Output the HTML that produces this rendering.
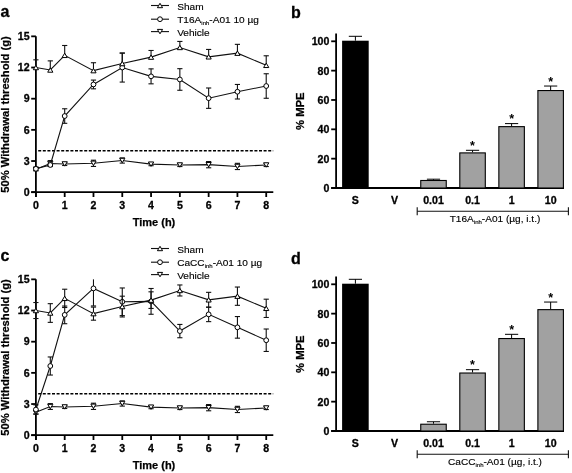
<!DOCTYPE html>
<html><head><meta charset="utf-8"><style>
html,body{margin:0;padding:0;background:#fff;}
svg{display:block;will-change:transform;}
text{font-family:"Liberation Sans", sans-serif;fill:#000;}
.pl{font-size:16px;font-weight:bold;stroke:#000;stroke-width:0.3px;}
.tk{font-size:10.6px;font-weight:bold;stroke:#000;stroke-width:0.3px;}
.tt{font-size:11px;font-weight:bold;stroke:#000;stroke-width:0.25px;}
.lg{font-size:10.1px;fill:#000;stroke:#000;stroke-width:0.15px;}
.sub{font-size:10.1px;fill:#000;stroke:#000;stroke-width:0.15px;}
.ast{font-size:12.5px;font-weight:bold;}
.ax{stroke:#000;stroke-width:1.8;}
.sl{stroke:#111;stroke-width:1.1;}
.eb{stroke:#111;stroke-width:1.1;}
.eb2{stroke:#000;stroke-width:1;}
.mk{fill:#fff;stroke:#000;stroke-width:1;}
.dash{stroke:#000;stroke-width:1.5;stroke-dasharray:3 1.6;}
.gb{fill:#a1a1a1;stroke:#000;stroke-width:1.1;}
.br{stroke:#111;stroke-width:1.1;}
</style></head><body>
<svg width="572" height="473" viewBox="0 0 572 473">
<text x="0.5" y="17" class="pl">a</text>
<line x1="151" y1="5.5" x2="169" y2="5.5" class="sl"/>
<polygon points="160,3.3 162.6,7.7 157.4,7.7" class="mk"/>
<text transform="translate(177.2,9.5) scale(1,0.92)" class="lg">Sham</text>
<line x1="151" y1="19.2" x2="169" y2="19.2" class="sl"/>
<circle cx="160" cy="19.2" r="2.4" class="mk"/>
<text transform="translate(177.2,23.2) scale(1,0.92)" class="lg">T16A<tspan font-size="6" dy="1.8">inh</tspan><tspan dy="-1.8">-A01 10 µg</tspan></text>
<line x1="151" y1="31.6" x2="169" y2="31.6" class="sl"/>
<polygon points="160,33.8 162.6,29.4 157.4,29.4" class="mk"/>
<text transform="translate(177.2,35.6) scale(1,0.92)" class="lg">Vehicle</text>
<line x1="35.9" y1="36.35" x2="35.9" y2="197" class="ax"/>
<line x1="31.2" y1="192.2" x2="273.3" y2="192.2" class="ax"/>
<line x1="31.2" y1="192.2" x2="35.9" y2="192.2" class="ax"/>
<text x="29.6" y="196" class="tk" text-anchor="end">0</text>
<line x1="31.2" y1="161.03" x2="35.9" y2="161.03" class="ax"/>
<text x="29.6" y="164.83" class="tk" text-anchor="end">3</text>
<line x1="31.2" y1="129.86" x2="35.9" y2="129.86" class="ax"/>
<text x="29.6" y="133.66" class="tk" text-anchor="end">6</text>
<line x1="31.2" y1="98.69" x2="35.9" y2="98.69" class="ax"/>
<text x="29.6" y="102.49" class="tk" text-anchor="end">9</text>
<line x1="31.2" y1="67.52" x2="35.9" y2="67.52" class="ax"/>
<text x="29.6" y="71.32" class="tk" text-anchor="end">12</text>
<line x1="31.2" y1="36.35" x2="35.9" y2="36.35" class="ax"/>
<text x="29.6" y="40.15" class="tk" text-anchor="end">15</text>
<line x1="35.9" y1="192.2" x2="35.9" y2="197" class="ax"/>
<text x="35.9" y="209" class="tk" text-anchor="middle">0</text>
<line x1="64.69" y1="192.2" x2="64.69" y2="197" class="ax"/>
<text x="64.69" y="209" class="tk" text-anchor="middle">1</text>
<line x1="93.48" y1="192.2" x2="93.48" y2="197" class="ax"/>
<text x="93.48" y="209" class="tk" text-anchor="middle">2</text>
<line x1="122.27" y1="192.2" x2="122.27" y2="197" class="ax"/>
<text x="122.27" y="209" class="tk" text-anchor="middle">3</text>
<line x1="151.06" y1="192.2" x2="151.06" y2="197" class="ax"/>
<text x="151.06" y="209" class="tk" text-anchor="middle">4</text>
<line x1="179.85" y1="192.2" x2="179.85" y2="197" class="ax"/>
<text x="179.85" y="209" class="tk" text-anchor="middle">5</text>
<line x1="208.64" y1="192.2" x2="208.64" y2="197" class="ax"/>
<text x="208.64" y="209" class="tk" text-anchor="middle">6</text>
<line x1="237.43" y1="192.2" x2="237.43" y2="197" class="ax"/>
<text x="237.43" y="209" class="tk" text-anchor="middle">7</text>
<line x1="266.22" y1="192.2" x2="266.22" y2="197" class="ax"/>
<text x="266.22" y="209" class="tk" text-anchor="middle">8</text>
<text x="154" y="225.6" class="tt" text-anchor="middle">Time (h)</text>
<text transform="translate(9.1,114.45) rotate(-90)" x="0" y="0" class="tt" style="font-size:11.2px" text-anchor="middle">50% Withdrawal threshold (g)</text>
<line x1="38.2" y1="150.64" x2="273.2" y2="150.64" class="dash"/>
<polyline points="35.9,169.34 50.3,163.52 64.69,163.94 93.48,163.32 122.27,160.51 151.06,164.15 179.85,164.98 208.64,164.67 237.43,166.43 266.22,164.98" class="sl" fill="none"/>
<line x1="35.9" y1="167.78" x2="35.9" y2="170.9" class="eb"/>
<line x1="33.3" y1="167.78" x2="38.5" y2="167.78" class="eb"/>
<line x1="33.3" y1="170.9" x2="38.5" y2="170.9" class="eb"/>
<line x1="50.3" y1="160.61" x2="50.3" y2="166.43" class="eb"/>
<line x1="47.7" y1="160.61" x2="52.9" y2="160.61" class="eb"/>
<line x1="47.7" y1="166.43" x2="52.9" y2="166.43" class="eb"/>
<line x1="64.69" y1="162.38" x2="64.69" y2="165.5" class="eb"/>
<line x1="62.09" y1="162.38" x2="67.29" y2="162.38" class="eb"/>
<line x1="62.09" y1="165.5" x2="67.29" y2="165.5" class="eb"/>
<line x1="93.48" y1="160.2" x2="93.48" y2="166.43" class="eb"/>
<line x1="90.88" y1="160.2" x2="96.08" y2="160.2" class="eb"/>
<line x1="90.88" y1="166.43" x2="96.08" y2="166.43" class="eb"/>
<line x1="122.27" y1="157.91" x2="122.27" y2="163.11" class="eb"/>
<line x1="119.67" y1="157.91" x2="124.87" y2="157.91" class="eb"/>
<line x1="119.67" y1="163.11" x2="124.87" y2="163.11" class="eb"/>
<line x1="151.06" y1="162.59" x2="151.06" y2="165.71" class="eb"/>
<line x1="148.46" y1="162.59" x2="153.66" y2="162.59" class="eb"/>
<line x1="148.46" y1="165.71" x2="153.66" y2="165.71" class="eb"/>
<line x1="179.85" y1="163.42" x2="179.85" y2="166.54" class="eb"/>
<line x1="177.25" y1="163.42" x2="182.45" y2="163.42" class="eb"/>
<line x1="177.25" y1="166.54" x2="182.45" y2="166.54" class="eb"/>
<line x1="208.64" y1="161.55" x2="208.64" y2="167.78" class="eb"/>
<line x1="206.04" y1="161.55" x2="211.24" y2="161.55" class="eb"/>
<line x1="206.04" y1="167.78" x2="211.24" y2="167.78" class="eb"/>
<line x1="237.43" y1="163.32" x2="237.43" y2="169.55" class="eb"/>
<line x1="234.83" y1="163.32" x2="240.03" y2="163.32" class="eb"/>
<line x1="234.83" y1="169.55" x2="240.03" y2="169.55" class="eb"/>
<line x1="266.22" y1="163.42" x2="266.22" y2="166.54" class="eb"/>
<line x1="263.62" y1="163.42" x2="268.82" y2="163.42" class="eb"/>
<line x1="263.62" y1="166.54" x2="268.82" y2="166.54" class="eb"/>
<polygon points="35.9,171.54 38.5,167.14 33.3,167.14" class="mk"/>
<polygon points="50.3,165.72 52.9,161.32 47.7,161.32" class="mk"/>
<polygon points="64.69,166.14 67.29,161.74 62.09,161.74" class="mk"/>
<polygon points="93.48,165.52 96.08,161.12 90.88,161.12" class="mk"/>
<polygon points="122.27,162.71 124.87,158.31 119.67,158.31" class="mk"/>
<polygon points="151.06,166.35 153.66,161.95 148.46,161.95" class="mk"/>
<polygon points="179.85,167.18 182.45,162.78 177.25,162.78" class="mk"/>
<polygon points="208.64,166.87 211.24,162.47 206.04,162.47" class="mk"/>
<polygon points="237.43,168.63 240.03,164.23 234.83,164.23" class="mk"/>
<polygon points="266.22,167.18 268.82,162.78 263.62,162.78" class="mk"/>
<polyline points="35.9,168.82 50.3,164.98 64.69,116.04 93.48,84.46 122.27,67.52 151.06,76.35 179.85,79.47 208.64,98.17 237.43,91.73 266.22,86.01" class="sl" fill="none"/>
<line x1="35.9" y1="167.26" x2="35.9" y2="170.38" class="eb"/>
<line x1="33.3" y1="167.26" x2="38.5" y2="167.26" class="eb"/>
<line x1="33.3" y1="170.38" x2="38.5" y2="170.38" class="eb"/>
<line x1="50.3" y1="163.42" x2="50.3" y2="166.54" class="eb"/>
<line x1="47.7" y1="163.42" x2="52.9" y2="163.42" class="eb"/>
<line x1="47.7" y1="166.54" x2="52.9" y2="166.54" class="eb"/>
<line x1="64.69" y1="108.77" x2="64.69" y2="123.31" class="eb"/>
<line x1="62.09" y1="108.77" x2="67.29" y2="108.77" class="eb"/>
<line x1="62.09" y1="123.31" x2="67.29" y2="123.31" class="eb"/>
<line x1="93.48" y1="80.09" x2="93.48" y2="88.82" class="eb"/>
<line x1="90.88" y1="80.09" x2="96.08" y2="80.09" class="eb"/>
<line x1="90.88" y1="88.82" x2="96.08" y2="88.82" class="eb"/>
<line x1="122.27" y1="52.97" x2="122.27" y2="82.07" class="eb"/>
<line x1="119.67" y1="52.97" x2="124.87" y2="52.97" class="eb"/>
<line x1="119.67" y1="82.07" x2="124.87" y2="82.07" class="eb"/>
<line x1="151.06" y1="68.87" x2="151.06" y2="83.83" class="eb"/>
<line x1="148.46" y1="68.87" x2="153.66" y2="68.87" class="eb"/>
<line x1="148.46" y1="83.83" x2="153.66" y2="83.83" class="eb"/>
<line x1="179.85" y1="68.66" x2="179.85" y2="90.27" class="eb"/>
<line x1="177.25" y1="68.66" x2="182.45" y2="68.66" class="eb"/>
<line x1="177.25" y1="90.27" x2="182.45" y2="90.27" class="eb"/>
<line x1="208.64" y1="87.99" x2="208.64" y2="108.35" class="eb"/>
<line x1="206.04" y1="87.99" x2="211.24" y2="87.99" class="eb"/>
<line x1="206.04" y1="108.35" x2="211.24" y2="108.35" class="eb"/>
<line x1="237.43" y1="84.46" x2="237.43" y2="99" class="eb"/>
<line x1="234.83" y1="84.46" x2="240.03" y2="84.46" class="eb"/>
<line x1="234.83" y1="99" x2="240.03" y2="99" class="eb"/>
<line x1="266.22" y1="73.75" x2="266.22" y2="98.27" class="eb"/>
<line x1="263.62" y1="73.75" x2="268.82" y2="73.75" class="eb"/>
<line x1="263.62" y1="98.27" x2="268.82" y2="98.27" class="eb"/>
<circle cx="35.9" cy="168.82" r="2.4" class="mk"/>
<circle cx="50.3" cy="164.98" r="2.4" class="mk"/>
<circle cx="64.69" cy="116.04" r="2.4" class="mk"/>
<circle cx="93.48" cy="84.46" r="2.4" class="mk"/>
<circle cx="122.27" cy="67.52" r="2.4" class="mk"/>
<circle cx="151.06" cy="76.35" r="2.4" class="mk"/>
<circle cx="179.85" cy="79.47" r="2.4" class="mk"/>
<circle cx="208.64" cy="98.17" r="2.4" class="mk"/>
<circle cx="237.43" cy="91.73" r="2.4" class="mk"/>
<circle cx="266.22" cy="86.01" r="2.4" class="mk"/>
<polyline points="35.9,67.52 50.3,70.01 64.69,55.36 93.48,70.64 122.27,63.57 151.06,57.13 179.85,47.47 208.64,56.82 237.43,53.18 266.22,65.34" class="sl" fill="none"/>
<line x1="35.9" y1="59.83" x2="35.9" y2="67.52" class="eb"/>
<line x1="33.3" y1="59.83" x2="38.5" y2="59.83" class="eb"/>
<line x1="50.3" y1="60.87" x2="50.3" y2="70.01" class="eb"/>
<line x1="47.7" y1="60.87" x2="52.9" y2="60.87" class="eb"/>
<line x1="64.69" y1="45.49" x2="64.69" y2="55.36" class="eb"/>
<line x1="62.09" y1="45.49" x2="67.29" y2="45.49" class="eb"/>
<line x1="93.48" y1="62.74" x2="93.48" y2="70.64" class="eb"/>
<line x1="90.88" y1="62.74" x2="96.08" y2="62.74" class="eb"/>
<line x1="122.27" y1="53.18" x2="122.27" y2="63.57" class="eb"/>
<line x1="119.67" y1="53.18" x2="124.87" y2="53.18" class="eb"/>
<line x1="151.06" y1="50.48" x2="151.06" y2="57.13" class="eb"/>
<line x1="148.46" y1="50.48" x2="153.66" y2="50.48" class="eb"/>
<line x1="179.85" y1="41.44" x2="179.85" y2="47.47" class="eb"/>
<line x1="177.25" y1="41.44" x2="182.45" y2="41.44" class="eb"/>
<line x1="208.64" y1="49.44" x2="208.64" y2="56.82" class="eb"/>
<line x1="206.04" y1="49.44" x2="211.24" y2="49.44" class="eb"/>
<line x1="237.43" y1="44.35" x2="237.43" y2="53.18" class="eb"/>
<line x1="234.83" y1="44.35" x2="240.03" y2="44.35" class="eb"/>
<line x1="266.22" y1="55.78" x2="266.22" y2="65.34" class="eb"/>
<line x1="263.62" y1="55.78" x2="268.82" y2="55.78" class="eb"/>
<polygon points="35.9,65.32 38.5,69.72 33.3,69.72" class="mk"/>
<polygon points="50.3,67.81 52.9,72.21 47.7,72.21" class="mk"/>
<polygon points="64.69,53.16 67.29,57.56 62.09,57.56" class="mk"/>
<polygon points="93.48,68.44 96.08,72.84 90.88,72.84" class="mk"/>
<polygon points="122.27,61.37 124.87,65.77 119.67,65.77" class="mk"/>
<polygon points="151.06,54.93 153.66,59.33 148.46,59.33" class="mk"/>
<polygon points="179.85,45.27 182.45,49.67 177.25,49.67" class="mk"/>
<polygon points="208.64,54.62 211.24,59.02 206.04,59.02" class="mk"/>
<polygon points="237.43,50.98 240.03,55.38 234.83,55.38" class="mk"/>
<polygon points="266.22,63.14 268.82,67.54 263.62,67.54" class="mk"/>
<text x="0.5" y="261.2" class="pl">c</text>
<line x1="151" y1="248.5" x2="169" y2="248.5" class="sl"/>
<polygon points="160,246.3 162.6,250.7 157.4,250.7" class="mk"/>
<text transform="translate(177.2,252.5) scale(1,0.92)" class="lg">Sham</text>
<line x1="151" y1="262.2" x2="169" y2="262.2" class="sl"/>
<circle cx="160" cy="262.2" r="2.4" class="mk"/>
<text transform="translate(177.2,266.2) scale(1,0.92)" class="lg">CaCC<tspan font-size="6" dy="1.8">inh</tspan><tspan dy="-1.8">-A01 10 µg</tspan></text>
<line x1="151" y1="274.6" x2="169" y2="274.6" class="sl"/>
<polygon points="160,276.8 162.6,272.4 157.4,272.4" class="mk"/>
<text transform="translate(177.2,278.6) scale(1,0.92)" class="lg">Vehicle</text>
<line x1="35.9" y1="279.35" x2="35.9" y2="440" class="ax"/>
<line x1="31.2" y1="435.2" x2="273.3" y2="435.2" class="ax"/>
<line x1="31.2" y1="435.2" x2="35.9" y2="435.2" class="ax"/>
<text x="29.6" y="439" class="tk" text-anchor="end">0</text>
<line x1="31.2" y1="404.03" x2="35.9" y2="404.03" class="ax"/>
<text x="29.6" y="407.83" class="tk" text-anchor="end">3</text>
<line x1="31.2" y1="372.86" x2="35.9" y2="372.86" class="ax"/>
<text x="29.6" y="376.66" class="tk" text-anchor="end">6</text>
<line x1="31.2" y1="341.69" x2="35.9" y2="341.69" class="ax"/>
<text x="29.6" y="345.49" class="tk" text-anchor="end">9</text>
<line x1="31.2" y1="310.52" x2="35.9" y2="310.52" class="ax"/>
<text x="29.6" y="314.32" class="tk" text-anchor="end">12</text>
<line x1="31.2" y1="279.35" x2="35.9" y2="279.35" class="ax"/>
<text x="29.6" y="283.15" class="tk" text-anchor="end">15</text>
<line x1="35.9" y1="435.2" x2="35.9" y2="440" class="ax"/>
<text x="35.9" y="452" class="tk" text-anchor="middle">0</text>
<line x1="64.69" y1="435.2" x2="64.69" y2="440" class="ax"/>
<text x="64.69" y="452" class="tk" text-anchor="middle">1</text>
<line x1="93.48" y1="435.2" x2="93.48" y2="440" class="ax"/>
<text x="93.48" y="452" class="tk" text-anchor="middle">2</text>
<line x1="122.27" y1="435.2" x2="122.27" y2="440" class="ax"/>
<text x="122.27" y="452" class="tk" text-anchor="middle">3</text>
<line x1="151.06" y1="435.2" x2="151.06" y2="440" class="ax"/>
<text x="151.06" y="452" class="tk" text-anchor="middle">4</text>
<line x1="179.85" y1="435.2" x2="179.85" y2="440" class="ax"/>
<text x="179.85" y="452" class="tk" text-anchor="middle">5</text>
<line x1="208.64" y1="435.2" x2="208.64" y2="440" class="ax"/>
<text x="208.64" y="452" class="tk" text-anchor="middle">6</text>
<line x1="237.43" y1="435.2" x2="237.43" y2="440" class="ax"/>
<text x="237.43" y="452" class="tk" text-anchor="middle">7</text>
<line x1="266.22" y1="435.2" x2="266.22" y2="440" class="ax"/>
<text x="266.22" y="452" class="tk" text-anchor="middle">8</text>
<text x="154" y="468.6" class="tt" text-anchor="middle">Time (h)</text>
<text transform="translate(9.1,357.45) rotate(-90)" x="0" y="0" class="tt" style="font-size:11.2px" text-anchor="middle">50% Withdrawal threshold (g)</text>
<line x1="38.2" y1="393.64" x2="273.2" y2="393.64" class="dash"/>
<polyline points="35.9,412.34 50.3,406.52 64.69,406.94 93.48,406.32 122.27,403.51 151.06,407.15 179.85,407.98 208.64,407.67 237.43,409.43 266.22,407.98" class="sl" fill="none"/>
<line x1="35.9" y1="410.78" x2="35.9" y2="413.9" class="eb"/>
<line x1="33.3" y1="410.78" x2="38.5" y2="410.78" class="eb"/>
<line x1="33.3" y1="413.9" x2="38.5" y2="413.9" class="eb"/>
<line x1="50.3" y1="403.61" x2="50.3" y2="409.43" class="eb"/>
<line x1="47.7" y1="403.61" x2="52.9" y2="403.61" class="eb"/>
<line x1="47.7" y1="409.43" x2="52.9" y2="409.43" class="eb"/>
<line x1="64.69" y1="405.38" x2="64.69" y2="408.5" class="eb"/>
<line x1="62.09" y1="405.38" x2="67.29" y2="405.38" class="eb"/>
<line x1="62.09" y1="408.5" x2="67.29" y2="408.5" class="eb"/>
<line x1="93.48" y1="403.2" x2="93.48" y2="409.43" class="eb"/>
<line x1="90.88" y1="403.2" x2="96.08" y2="403.2" class="eb"/>
<line x1="90.88" y1="409.43" x2="96.08" y2="409.43" class="eb"/>
<line x1="122.27" y1="400.91" x2="122.27" y2="406.11" class="eb"/>
<line x1="119.67" y1="400.91" x2="124.87" y2="400.91" class="eb"/>
<line x1="119.67" y1="406.11" x2="124.87" y2="406.11" class="eb"/>
<line x1="151.06" y1="405.59" x2="151.06" y2="408.71" class="eb"/>
<line x1="148.46" y1="405.59" x2="153.66" y2="405.59" class="eb"/>
<line x1="148.46" y1="408.71" x2="153.66" y2="408.71" class="eb"/>
<line x1="179.85" y1="406.42" x2="179.85" y2="409.54" class="eb"/>
<line x1="177.25" y1="406.42" x2="182.45" y2="406.42" class="eb"/>
<line x1="177.25" y1="409.54" x2="182.45" y2="409.54" class="eb"/>
<line x1="208.64" y1="404.55" x2="208.64" y2="410.78" class="eb"/>
<line x1="206.04" y1="404.55" x2="211.24" y2="404.55" class="eb"/>
<line x1="206.04" y1="410.78" x2="211.24" y2="410.78" class="eb"/>
<line x1="237.43" y1="406.32" x2="237.43" y2="412.55" class="eb"/>
<line x1="234.83" y1="406.32" x2="240.03" y2="406.32" class="eb"/>
<line x1="234.83" y1="412.55" x2="240.03" y2="412.55" class="eb"/>
<line x1="266.22" y1="406.42" x2="266.22" y2="409.54" class="eb"/>
<line x1="263.62" y1="406.42" x2="268.82" y2="406.42" class="eb"/>
<line x1="263.62" y1="409.54" x2="268.82" y2="409.54" class="eb"/>
<polygon points="35.9,414.54 38.5,410.14 33.3,410.14" class="mk"/>
<polygon points="50.3,408.72 52.9,404.32 47.7,404.32" class="mk"/>
<polygon points="64.69,409.14 67.29,404.74 62.09,404.74" class="mk"/>
<polygon points="93.48,408.52 96.08,404.12 90.88,404.12" class="mk"/>
<polygon points="122.27,405.71 124.87,401.31 119.67,401.31" class="mk"/>
<polygon points="151.06,409.35 153.66,404.95 148.46,404.95" class="mk"/>
<polygon points="179.85,410.18 182.45,405.78 177.25,405.78" class="mk"/>
<polygon points="208.64,409.87 211.24,405.47 206.04,405.47" class="mk"/>
<polygon points="237.43,411.63 240.03,407.23 234.83,407.23" class="mk"/>
<polygon points="266.22,410.18 268.82,405.78 263.62,405.78" class="mk"/>
<polyline points="35.9,409.54 50.3,366 64.69,314.88 93.48,288.39 122.27,301.79 151.06,301.38 179.85,331.09 208.64,314.36 237.43,327.35 266.22,340.24" class="sl" fill="none"/>
<line x1="35.9" y1="404.86" x2="35.9" y2="414.21" class="eb"/>
<line x1="33.3" y1="404.86" x2="38.5" y2="404.86" class="eb"/>
<line x1="33.3" y1="414.21" x2="38.5" y2="414.21" class="eb"/>
<line x1="50.3" y1="356.96" x2="50.3" y2="375.04" class="eb"/>
<line x1="47.7" y1="356.96" x2="52.9" y2="356.96" class="eb"/>
<line x1="47.7" y1="375.04" x2="52.9" y2="375.04" class="eb"/>
<line x1="64.69" y1="306.05" x2="64.69" y2="323.72" class="eb"/>
<line x1="62.09" y1="306.05" x2="67.29" y2="306.05" class="eb"/>
<line x1="62.09" y1="323.72" x2="67.29" y2="323.72" class="eb"/>
<line x1="93.48" y1="279.35" x2="93.48" y2="305.95" class="eb"/>
<line x1="90.88" y1="305.95" x2="96.08" y2="305.95" class="eb"/>
<line x1="122.27" y1="287.97" x2="122.27" y2="315.61" class="eb"/>
<line x1="119.67" y1="287.97" x2="124.87" y2="287.97" class="eb"/>
<line x1="119.67" y1="315.61" x2="124.87" y2="315.61" class="eb"/>
<line x1="151.06" y1="288.49" x2="151.06" y2="314.26" class="eb"/>
<line x1="148.46" y1="288.49" x2="153.66" y2="288.49" class="eb"/>
<line x1="148.46" y1="314.26" x2="153.66" y2="314.26" class="eb"/>
<line x1="179.85" y1="324.44" x2="179.85" y2="337.74" class="eb"/>
<line x1="177.25" y1="324.44" x2="182.45" y2="324.44" class="eb"/>
<line x1="177.25" y1="337.74" x2="182.45" y2="337.74" class="eb"/>
<line x1="208.64" y1="307.09" x2="208.64" y2="321.64" class="eb"/>
<line x1="206.04" y1="307.09" x2="211.24" y2="307.09" class="eb"/>
<line x1="206.04" y1="321.64" x2="211.24" y2="321.64" class="eb"/>
<line x1="237.43" y1="316.55" x2="237.43" y2="338.16" class="eb"/>
<line x1="234.83" y1="316.55" x2="240.03" y2="316.55" class="eb"/>
<line x1="234.83" y1="338.16" x2="240.03" y2="338.16" class="eb"/>
<line x1="266.22" y1="329.01" x2="266.22" y2="351.46" class="eb"/>
<line x1="263.62" y1="329.01" x2="268.82" y2="329.01" class="eb"/>
<line x1="263.62" y1="351.46" x2="268.82" y2="351.46" class="eb"/>
<circle cx="35.9" cy="409.54" r="2.4" class="mk"/>
<circle cx="50.3" cy="366" r="2.4" class="mk"/>
<circle cx="64.69" cy="314.88" r="2.4" class="mk"/>
<circle cx="93.48" cy="288.39" r="2.4" class="mk"/>
<circle cx="122.27" cy="301.79" r="2.4" class="mk"/>
<circle cx="151.06" cy="301.38" r="2.4" class="mk"/>
<circle cx="179.85" cy="331.09" r="2.4" class="mk"/>
<circle cx="208.64" cy="314.36" r="2.4" class="mk"/>
<circle cx="237.43" cy="327.35" r="2.4" class="mk"/>
<circle cx="266.22" cy="340.24" r="2.4" class="mk"/>
<polyline points="35.9,310.52 50.3,313.01 64.69,298.36 93.48,313.64 122.27,306.57 151.06,300.13 179.85,290.47 208.64,299.82 237.43,296.18 266.22,308.34" class="sl" fill="none"/>
<line x1="35.9" y1="302.52" x2="35.9" y2="318.52" class="eb"/>
<line x1="33.3" y1="302.52" x2="38.5" y2="302.52" class="eb"/>
<line x1="33.3" y1="318.52" x2="38.5" y2="318.52" class="eb"/>
<line x1="50.3" y1="303.66" x2="50.3" y2="322.36" class="eb"/>
<line x1="47.7" y1="303.66" x2="52.9" y2="303.66" class="eb"/>
<line x1="47.7" y1="322.36" x2="52.9" y2="322.36" class="eb"/>
<line x1="64.69" y1="289.22" x2="64.69" y2="307.51" class="eb"/>
<line x1="62.09" y1="289.22" x2="67.29" y2="289.22" class="eb"/>
<line x1="62.09" y1="307.51" x2="67.29" y2="307.51" class="eb"/>
<line x1="93.48" y1="307.09" x2="93.48" y2="320.18" class="eb"/>
<line x1="90.88" y1="307.09" x2="96.08" y2="307.09" class="eb"/>
<line x1="90.88" y1="320.18" x2="96.08" y2="320.18" class="eb"/>
<line x1="122.27" y1="296.18" x2="122.27" y2="316.96" class="eb"/>
<line x1="119.67" y1="296.18" x2="124.87" y2="296.18" class="eb"/>
<line x1="119.67" y1="316.96" x2="124.87" y2="316.96" class="eb"/>
<line x1="151.06" y1="291.82" x2="151.06" y2="308.44" class="eb"/>
<line x1="148.46" y1="291.82" x2="153.66" y2="291.82" class="eb"/>
<line x1="148.46" y1="308.44" x2="153.66" y2="308.44" class="eb"/>
<line x1="179.85" y1="284.96" x2="179.85" y2="295.97" class="eb"/>
<line x1="177.25" y1="284.96" x2="182.45" y2="284.96" class="eb"/>
<line x1="177.25" y1="295.97" x2="182.45" y2="295.97" class="eb"/>
<line x1="208.64" y1="292.34" x2="208.64" y2="307.3" class="eb"/>
<line x1="206.04" y1="292.34" x2="211.24" y2="292.34" class="eb"/>
<line x1="206.04" y1="307.3" x2="211.24" y2="307.3" class="eb"/>
<line x1="237.43" y1="287.04" x2="237.43" y2="305.32" class="eb"/>
<line x1="234.83" y1="287.04" x2="240.03" y2="287.04" class="eb"/>
<line x1="234.83" y1="305.32" x2="240.03" y2="305.32" class="eb"/>
<line x1="266.22" y1="299.19" x2="266.22" y2="317.48" class="eb"/>
<line x1="263.62" y1="299.19" x2="268.82" y2="299.19" class="eb"/>
<line x1="263.62" y1="317.48" x2="268.82" y2="317.48" class="eb"/>
<polygon points="35.9,308.32 38.5,312.72 33.3,312.72" class="mk"/>
<polygon points="50.3,310.81 52.9,315.21 47.7,315.21" class="mk"/>
<polygon points="64.69,296.16 67.29,300.56 62.09,300.56" class="mk"/>
<polygon points="93.48,311.44 96.08,315.84 90.88,315.84" class="mk"/>
<polygon points="122.27,304.37 124.87,308.77 119.67,308.77" class="mk"/>
<polygon points="151.06,297.93 153.66,302.33 148.46,302.33" class="mk"/>
<polygon points="179.85,288.27 182.45,292.67 177.25,292.67" class="mk"/>
<polygon points="208.64,297.62 211.24,302.02 206.04,302.02" class="mk"/>
<polygon points="237.43,293.98 240.03,298.38 234.83,298.38" class="mk"/>
<polygon points="266.22,306.14 268.82,310.54 263.62,310.54" class="mk"/>
<text x="291.1" y="18.3" class="pl">b</text>
<line x1="336.1" y1="33.4" x2="336.1" y2="188" class="ax"/>
<line x1="331.2" y1="188" x2="564" y2="188" class="ax"/>
<line x1="331.2" y1="188" x2="336.1" y2="188" class="ax"/>
<text x="329.4" y="191.9" class="tk" text-anchor="end">0</text>
<line x1="331.2" y1="158.66" x2="336.1" y2="158.66" class="ax"/>
<text x="329.4" y="162.56" class="tk" text-anchor="end">20</text>
<line x1="331.2" y1="129.32" x2="336.1" y2="129.32" class="ax"/>
<text x="329.4" y="133.22" class="tk" text-anchor="end">40</text>
<line x1="331.2" y1="99.98" x2="336.1" y2="99.98" class="ax"/>
<text x="329.4" y="103.88" class="tk" text-anchor="end">60</text>
<line x1="331.2" y1="70.64" x2="336.1" y2="70.64" class="ax"/>
<text x="329.4" y="74.54" class="tk" text-anchor="end">80</text>
<line x1="331.2" y1="41.3" x2="336.1" y2="41.3" class="ax"/>
<text x="329.4" y="45.2" class="tk" text-anchor="end">100</text>
<text transform="translate(303.7,111.2) rotate(-90)" x="0" y="0" class="tt" style="font-size:11.3px" text-anchor="middle">% MPE</text>
<line x1="355.4" y1="36.31" x2="355.4" y2="40.71" class="eb2"/>
<line x1="348.8" y1="36.31" x2="362" y2="36.31" class="eb2"/>
<rect x="342.1" y="40.71" width="26.6" height="147.29" fill="#000"/>
<text x="355.4" y="204.4" class="tk" text-anchor="middle">S</text>
<text x="394.45" y="204.4" class="tk" text-anchor="middle">V</text>
<line x1="433.5" y1="179.2" x2="433.5" y2="179.93" class="eb2"/>
<line x1="426.9" y1="179.2" x2="440.1" y2="179.2" class="eb2"/>
<rect x="420.75" y="180.48" width="25.5" height="7.52" class="gb"/>
<text x="433.5" y="204.4" class="tk" text-anchor="middle">0.01</text>
<line x1="472.55" y1="150.3" x2="472.55" y2="152.35" class="eb2"/>
<line x1="465.95" y1="150.3" x2="479.15" y2="150.3" class="eb2"/>
<rect x="459.8" y="152.9" width="25.5" height="35.1" class="gb"/>
<text x="472.55" y="149.9" class="ast" text-anchor="middle">*</text>
<text x="472.55" y="204.4" class="tk" text-anchor="middle">0.1</text>
<line x1="511.6" y1="123.6" x2="511.6" y2="126.09" class="eb2"/>
<line x1="505" y1="123.6" x2="518.2" y2="123.6" class="eb2"/>
<rect x="498.85" y="126.64" width="25.5" height="61.36" class="gb"/>
<text x="511.6" y="123.2" class="ast" text-anchor="middle">*</text>
<text x="511.6" y="204.4" class="tk" text-anchor="middle">1</text>
<line x1="550.65" y1="86.04" x2="550.65" y2="90" class="eb2"/>
<line x1="544.05" y1="86.04" x2="557.25" y2="86.04" class="eb2"/>
<rect x="537.9" y="90.55" width="25.5" height="97.45" class="gb"/>
<text x="550.65" y="85.64" class="ast" text-anchor="middle">*</text>
<text x="550.65" y="204.4" class="tk" text-anchor="middle">10</text>
<line x1="417.2" y1="211.3" x2="568.4" y2="211.3" class="br"/>
<line x1="417.2" y1="207.3" x2="417.2" y2="215.3" class="br"/>
<line x1="568.4" y1="207.3" x2="568.4" y2="215.3" class="br"/>
<text transform="translate(495,222.4) scale(1,0.92)" class="sub" text-anchor="middle">T16A<tspan font-size="6" dy="1.8">inh</tspan><tspan dy="-1.8">-A01 (µg, i.t.)</tspan></text>
<text x="291.1" y="264.1" class="pl">d</text>
<line x1="336.1" y1="276.4" x2="336.1" y2="431" class="ax"/>
<line x1="331.2" y1="431" x2="564" y2="431" class="ax"/>
<line x1="331.2" y1="431" x2="336.1" y2="431" class="ax"/>
<text x="329.4" y="434.9" class="tk" text-anchor="end">0</text>
<line x1="331.2" y1="401.66" x2="336.1" y2="401.66" class="ax"/>
<text x="329.4" y="405.56" class="tk" text-anchor="end">20</text>
<line x1="331.2" y1="372.32" x2="336.1" y2="372.32" class="ax"/>
<text x="329.4" y="376.22" class="tk" text-anchor="end">40</text>
<line x1="331.2" y1="342.98" x2="336.1" y2="342.98" class="ax"/>
<text x="329.4" y="346.88" class="tk" text-anchor="end">60</text>
<line x1="331.2" y1="313.64" x2="336.1" y2="313.64" class="ax"/>
<text x="329.4" y="317.54" class="tk" text-anchor="end">80</text>
<line x1="331.2" y1="284.3" x2="336.1" y2="284.3" class="ax"/>
<text x="329.4" y="288.2" class="tk" text-anchor="end">100</text>
<text transform="translate(303.7,354.2) rotate(-90)" x="0" y="0" class="tt" style="font-size:11.3px" text-anchor="middle">% MPE</text>
<line x1="355.4" y1="279.31" x2="355.4" y2="283.71" class="eb2"/>
<line x1="348.8" y1="279.31" x2="362" y2="279.31" class="eb2"/>
<rect x="342.1" y="283.71" width="26.6" height="147.29" fill="#000"/>
<text x="355.4" y="447.4" class="tk" text-anchor="middle">S</text>
<text x="394.45" y="447.4" class="tk" text-anchor="middle">V</text>
<line x1="433.5" y1="421.76" x2="433.5" y2="423.67" class="eb2"/>
<line x1="426.9" y1="421.76" x2="440.1" y2="421.76" class="eb2"/>
<rect x="420.75" y="424.22" width="25.5" height="6.78" class="gb"/>
<text x="433.5" y="447.4" class="tk" text-anchor="middle">0.01</text>
<line x1="472.55" y1="369.68" x2="472.55" y2="372.47" class="eb2"/>
<line x1="465.95" y1="369.68" x2="479.15" y2="369.68" class="eb2"/>
<rect x="459.8" y="373.02" width="25.5" height="57.98" class="gb"/>
<text x="472.55" y="369.28" class="ast" text-anchor="middle">*</text>
<text x="472.55" y="447.4" class="tk" text-anchor="middle">0.1</text>
<line x1="511.6" y1="334.32" x2="511.6" y2="337.99" class="eb2"/>
<line x1="505" y1="334.32" x2="518.2" y2="334.32" class="eb2"/>
<rect x="498.85" y="338.54" width="25.5" height="92.46" class="gb"/>
<text x="511.6" y="333.92" class="ast" text-anchor="middle">*</text>
<text x="511.6" y="447.4" class="tk" text-anchor="middle">1</text>
<line x1="550.65" y1="302.05" x2="550.65" y2="309.09" class="eb2"/>
<line x1="544.05" y1="302.05" x2="557.25" y2="302.05" class="eb2"/>
<rect x="537.9" y="309.64" width="25.5" height="121.36" class="gb"/>
<text x="550.65" y="301.65" class="ast" text-anchor="middle">*</text>
<text x="550.65" y="447.4" class="tk" text-anchor="middle">10</text>
<line x1="417.2" y1="454.3" x2="568.4" y2="454.3" class="br"/>
<line x1="417.2" y1="450.3" x2="417.2" y2="458.3" class="br"/>
<line x1="568.4" y1="450.3" x2="568.4" y2="458.3" class="br"/>
<text transform="translate(495,465.4) scale(1,0.92)" class="sub" text-anchor="middle">CaCC<tspan font-size="6" dy="1.8">inh</tspan><tspan dy="-1.8">-A01 (µg, i.t.)</tspan></text>
</svg>
</body></html>
